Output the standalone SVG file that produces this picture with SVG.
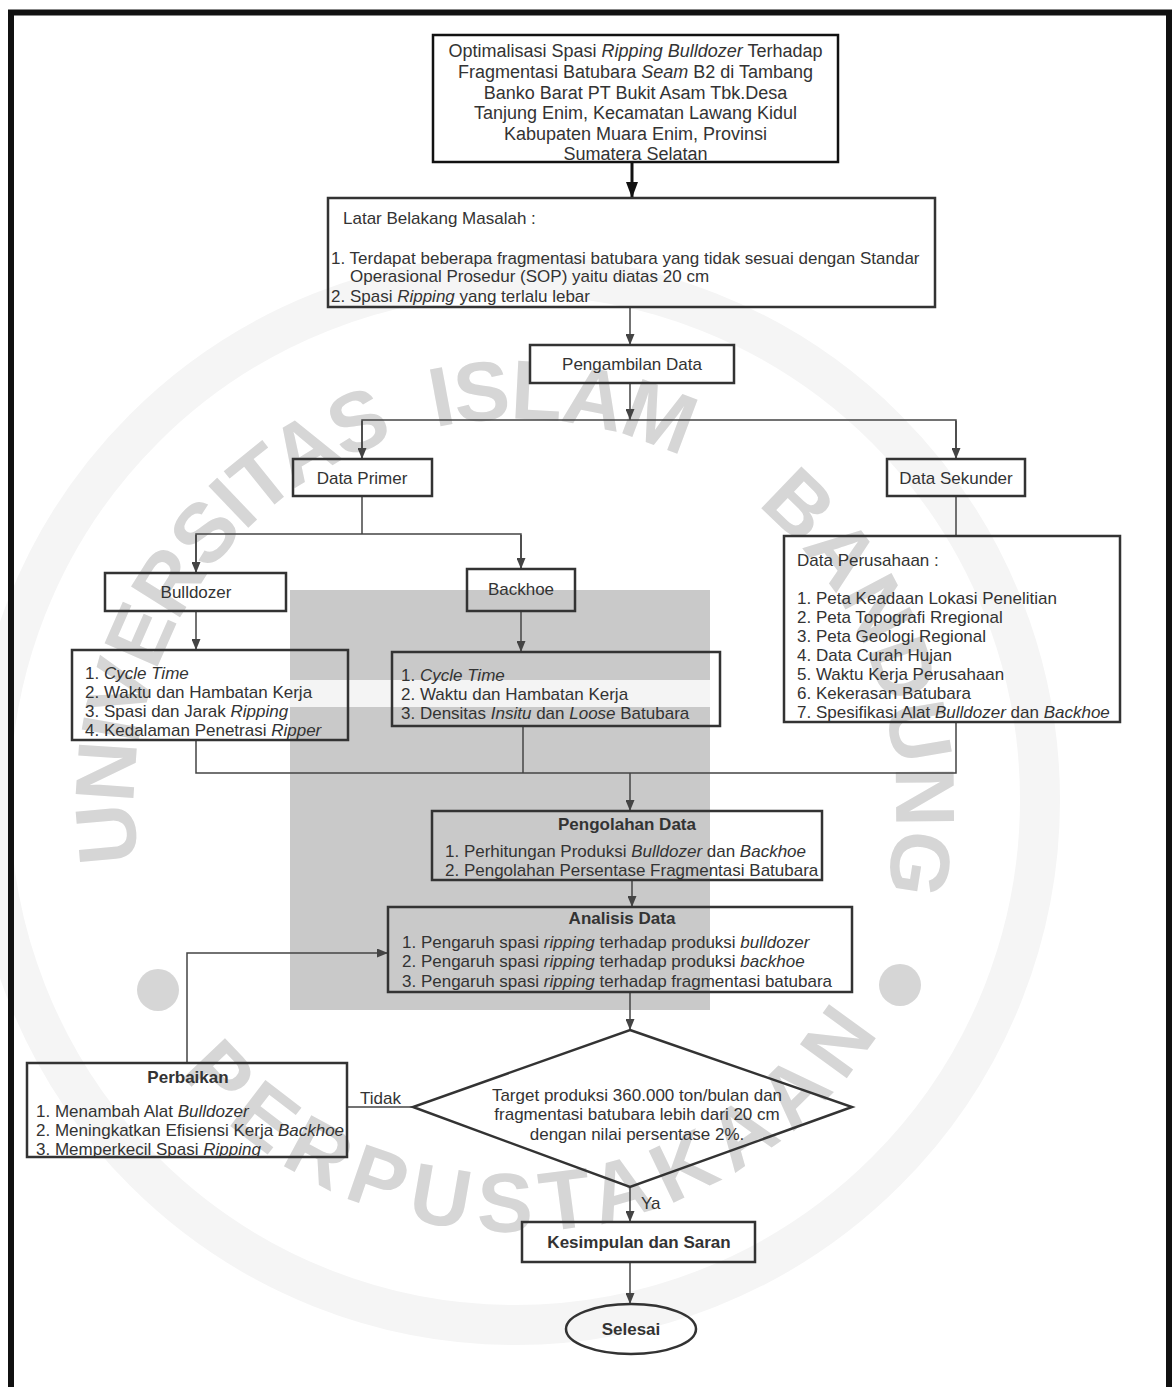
<svg xmlns="http://www.w3.org/2000/svg" width="1173" height="1387" viewBox="0 0 1173 1387">
<style>
.box{fill:none;stroke:#333;stroke-width:2.5}
.t{font-family:"Liberation Sans",Arial,sans-serif;font-size:17px;fill:#333}
.b{font-weight:bold}
.c{text-anchor:middle}
.i{font-style:italic}
.ln{fill:none;stroke:#444;stroke-width:1.5}
.wm{font-family:"Liberation Sans",Arial,sans-serif;font-size:84px;font-weight:bold;fill:#d6d6d6}
</style>
<defs>
<marker id="a" viewBox="0 0 11 9" refX="11" refY="4.5" markerWidth="11" markerHeight="9" markerUnits="userSpaceOnUse" orient="auto"><path d="M0,0 L11,4.5 L0,9 z" fill="#444"/></marker>
<marker id="ab" viewBox="0 0 16 12" refX="16" refY="6" markerWidth="16" markerHeight="12" markerUnits="userSpaceOnUse" orient="auto"><path d="M0,0 L16,6 L0,12 z" fill="#111"/></marker>
<path id="arcTop" d="M169.7,961 A381,381 0 1 1 851.4,978.9"/>
<path id="arcBot" d="M140.9,1016 A432,432 0 0 0 915.5,961.8"/>
</defs>
<rect width="1173" height="1387" fill="#fff"/>
<g id="watermark">
<circle cx="515" cy="800" r="525" fill="none" stroke="#f5f5f5" stroke-width="40"/>
<rect x="290" y="590" width="420" height="420" fill="#c9c9c9"/>
<rect x="290" y="680" width="420" height="27" fill="#f4f4f4"/>
<circle cx="158" cy="990" r="21" fill="#d6d6d6"/>
<circle cx="900" cy="985" r="21" fill="#d6d6d6"/>
<text class="wm" letter-spacing="-2"><textPath href="#arcTop" startOffset="104">UNIVERSITAS</textPath></text>
<text class="wm" letter-spacing="-2"><textPath href="#arcTop" startOffset="684">ISLAM</textPath></text>
<text class="wm"><textPath href="#arcTop" startOffset="1026">BANDUNG</textPath></text>
<text class="wm" letter-spacing="11"><textPath href="#arcBot" startOffset="50%" text-anchor="middle">PERPUSTAKAAN</textPath></text>
</g>
<path d="M11,1387 V12.5 H1169 V1387" fill="none" stroke="#111" stroke-width="6"/>
<g id="connectors">
<line x1="632" y1="162" x2="632" y2="198" stroke="#111" stroke-width="3" marker-end="url(#ab)"/>
<line class="ln" x1="630" y1="307" x2="630" y2="345" marker-end="url(#a)"/>
<line class="ln" x1="630" y1="383" x2="630" y2="420" marker-end="url(#a)"/>
<path class="ln" d="M362,459 V420 H956 V459"/>
<line class="ln" x1="362" y1="421" x2="362" y2="459" marker-end="url(#a)"/>
<line class="ln" x1="956" y1="421" x2="956" y2="459" marker-end="url(#a)"/>
<path class="ln" d="M362,496 V534"/>
<path class="ln" d="M196,573 V534 H521 V569"/>
<line class="ln" x1="196" y1="535" x2="196" y2="573" marker-end="url(#a)"/>
<line class="ln" x1="521" y1="535" x2="521" y2="569" marker-end="url(#a)"/>
<line class="ln" x1="956" y1="496" x2="956" y2="536"/>
<line class="ln" x1="196" y1="611" x2="196" y2="650" marker-end="url(#a)"/>
<line class="ln" x1="521" y1="611" x2="521" y2="652" marker-end="url(#a)"/>
<path class="ln" d="M196,740 V773 H956 V722"/>
<line class="ln" x1="523" y1="726" x2="523" y2="773"/>
<line class="ln" x1="630" y1="773" x2="630" y2="811" marker-end="url(#a)"/>
<line class="ln" x1="632" y1="880" x2="632" y2="907" marker-end="url(#a)"/>
<line class="ln" x1="630" y1="992" x2="630" y2="1030" marker-end="url(#a)"/>
<path class="ln" d="M187,1063 V953 H388" marker-end="url(#a)"/>
<line class="ln" x1="413" y1="1107" x2="347" y2="1107"/>
<line class="ln" x1="630" y1="1187" x2="630" y2="1222" marker-end="url(#a)"/>
<line class="ln" x1="630" y1="1262" x2="630" y2="1304" marker-end="url(#a)"/>
<text class="t" x="360" y="1104">Tidak</text>
<text class="t" x="641" y="1209">Ya</text>
</g>
<g id="judul">
<rect x="433" y="35" width="405" height="127" fill="none" stroke="#111" stroke-width="2.5"/>
<text class="t c" style="font-size:18px" x="635.5" y="57">Optimalisasi Spasi <tspan class="i">Ripping Bulldozer</tspan> Terhadap</text>
<text class="t c" style="font-size:18px" x="635.5" y="78">Fragmentasi Batubara <tspan class="i">Seam</tspan> B2 di Tambang</text>
<text class="t c" style="font-size:18px" x="635.5" y="99">Banko Barat PT Bukit Asam Tbk.Desa</text>
<text class="t c" style="font-size:18px" x="635.5" y="119">Tanjung Enim, Kecamatan Lawang Kidul</text>
<text class="t c" style="font-size:18px" x="635.5" y="140">Kabupaten Muara Enim, Provinsi</text>
<text class="t c" style="font-size:18px" x="635.5" y="160">Sumatera Selatan</text>
</g>
<g id="latar">
<rect class="box" x="328" y="198" width="607" height="109"/>
<text class="t" x="343" y="224">Latar Belakang Masalah :</text>
<text class="t" x="331" y="264">1. Terdapat beberapa fragmentasi batubara yang tidak sesuai dengan Standar</text>
<text class="t" x="350" y="282">Operasional Prosedur (SOP) yaitu diatas 20 cm</text>
<text class="t" x="331" y="302">2. Spasi <tspan class="i">Ripping</tspan> yang terlalu lebar</text>
</g>
<g id="pengambilan">
<rect class="box" x="530" y="345" width="204" height="38"/>
<text class="t c" x="632" y="370">Pengambilan Data</text>
</g>
<g id="primer">
<rect class="box" x="293" y="459" width="139" height="37"/>
<text class="t c" x="362" y="484">Data Primer</text>
</g>
<g id="sekunder">
<rect class="box" x="887" y="459" width="138" height="37"/>
<text class="t c" x="956" y="484">Data Sekunder</text>
</g>
<g id="bulldozer">
<rect class="box" x="105" y="573" width="181" height="38"/>
<text class="t c" x="196" y="598">Bulldozer</text>
</g>
<g id="backhoe">
<rect class="box" x="467" y="569" width="108" height="42"/>
<text class="t c" x="521" y="595">Backhoe</text>
</g>
<g id="bulldozer-data">
<rect class="box" x="72" y="650" width="276" height="90"/>
<text class="t" x="85" y="679">1. <tspan class="i">Cycle Time</tspan></text>
<text class="t" x="85" y="698">2. Waktu dan Hambatan Kerja</text>
<text class="t" x="85" y="717">3. Spasi dan Jarak <tspan class="i">Ripping</tspan></text>
<text class="t" x="85" y="736">4. Kedalaman Penetrasi <tspan class="i">Ripper</tspan></text>
</g>
<g id="backhoe-data">
<rect class="box" x="392" y="652" width="328" height="74"/>
<text class="t" x="401" y="681">1. <tspan class="i">Cycle Time</tspan></text>
<text class="t" x="401" y="700">2. Waktu dan Hambatan Kerja</text>
<text class="t" x="401" y="719">3. Densitas <tspan class="i">Insitu</tspan> dan <tspan class="i">Loose</tspan> Batubara</text>
</g>
<g id="perusahaan">
<rect class="box" x="784" y="536" width="336" height="186"/>
<text class="t" x="797" y="566">Data Perusahaan :</text>
<text class="t" x="797" y="604">1. Peta Keadaan Lokasi Penelitian</text>
<text class="t" x="797" y="623">2. Peta Topografi Rregional</text>
<text class="t" x="797" y="642">3. Peta Geologi Regional</text>
<text class="t" x="797" y="661">4. Data Curah Hujan</text>
<text class="t" x="797" y="680">5. Waktu Kerja Perusahaan</text>
<text class="t" x="797" y="699">6. Kekerasan Batubara</text>
<text class="t" x="797" y="718">7. Spesifikasi Alat <tspan class="i">Bulldozer</tspan> dan <tspan class="i">Backhoe</tspan></text>
</g>
<g id="pengolahan">
<rect class="box" x="432" y="811" width="390" height="69"/>
<text class="t b c" x="627" y="830">Pengolahan Data</text>
<text class="t" x="445" y="857">1. Perhitungan Produksi <tspan class="i">Bulldozer</tspan> dan <tspan class="i">Backhoe</tspan></text>
<text class="t" x="445" y="876">2. Pengolahan Persentase Fragmentasi Batubara</text>
</g>
<g id="analisis">
<rect class="box" x="388" y="907" width="464" height="85"/>
<text class="t b c" x="622" y="924">Analisis Data</text>
<text class="t" x="402" y="948">1. Pengaruh spasi <tspan class="i">ripping</tspan> terhadap produksi <tspan class="i">bulldozer</tspan></text>
<text class="t" x="402" y="967">2. Pengaruh spasi <tspan class="i">ripping</tspan> terhadap produksi <tspan class="i">backhoe</tspan></text>
<text class="t" x="402" y="987">3. Pengaruh spasi <tspan class="i">ripping</tspan> terhadap fragmentasi batubara</text>
</g>
<g id="keputusan">
<polygon points="630,1030 852,1107 630,1187 413,1107" fill="none" stroke="#333" stroke-width="2.5"/>
<text class="t c" x="637" y="1101">Target produksi 360.000 ton/bulan dan</text>
<text class="t c" x="637" y="1120">fragmentasi batubara lebih dari 20 cm</text>
<text class="t c" x="637" y="1140">dengan nilai persentase 2%.</text>
</g>
<g id="perbaikan">
<rect class="box" x="27" y="1063" width="320" height="94"/>
<text class="t b c" x="188" y="1083">Perbaikan</text>
<text class="t" x="36" y="1117">1. Menambah Alat <tspan class="i">Bulldozer</tspan></text>
<text class="t" x="36" y="1136">2. Meningkatkan Efisiensi Kerja <tspan class="i">Backhoe</tspan></text>
<text class="t" x="36" y="1155">3. Memperkecil Spasi <tspan class="i">Ripping</tspan></text>
</g>
<g id="kesimpulan">
<rect class="box" x="522" y="1222" width="233" height="40"/>
<text class="t b c" x="639" y="1248">Kesimpulan dan Saran</text>
</g>
<g id="selesai">
<ellipse cx="631" cy="1329" rx="65" ry="25" fill="none" stroke="#333" stroke-width="2.5"/>
<text class="t b c" x="631" y="1335">Selesai</text>
</g>
</svg>
